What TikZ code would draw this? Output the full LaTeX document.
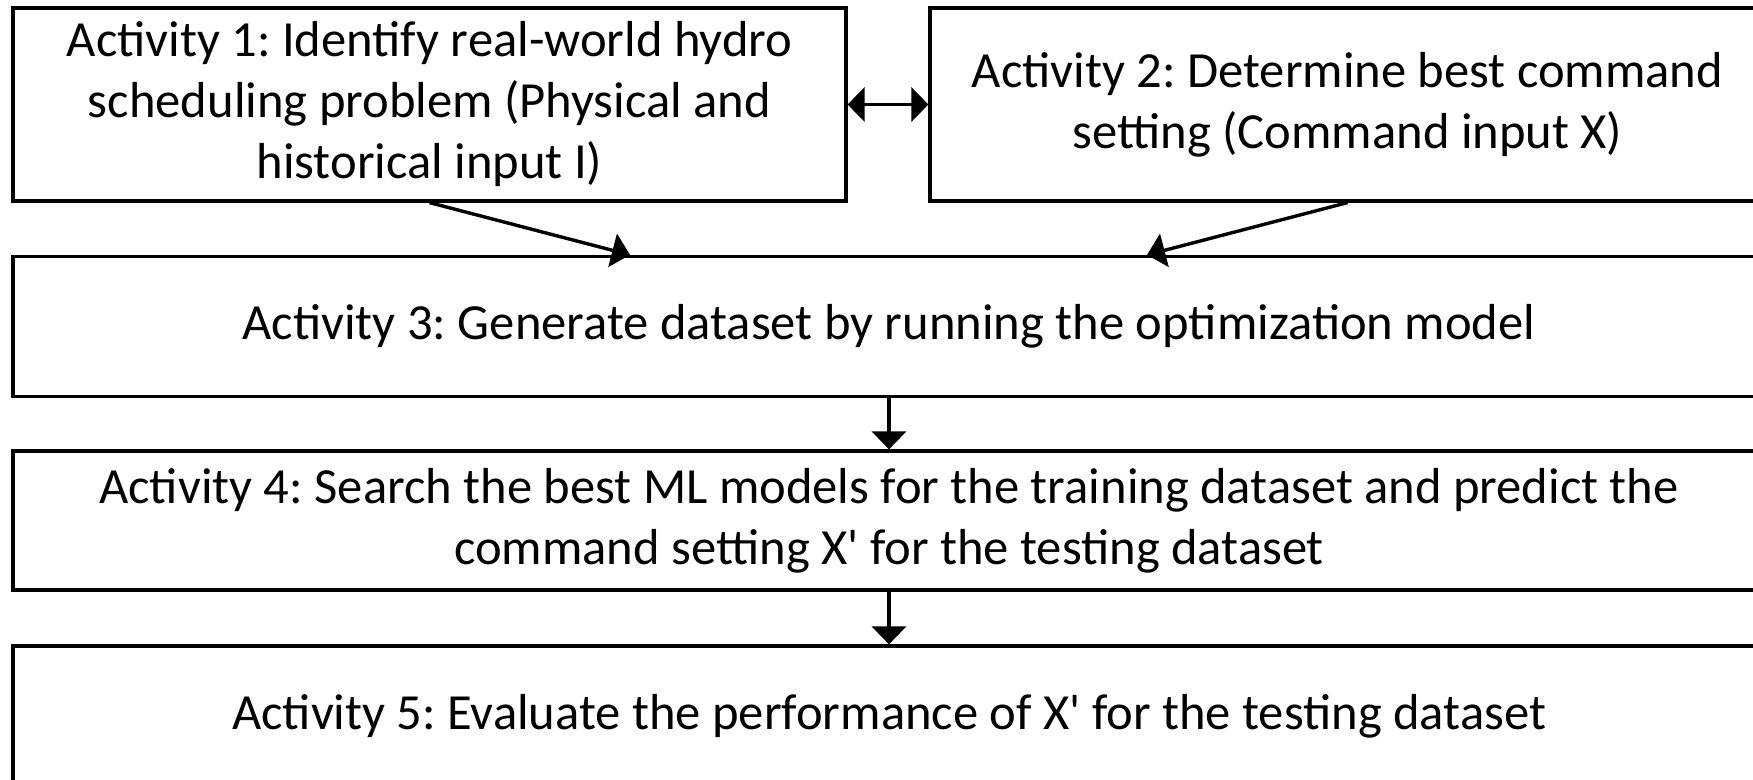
\documentclass[tikz,border=0pt]{standalone}
\usepackage{fontspec}
\setmainfont{Carlito}
\usetikzlibrary{arrows.meta}
\frenchspacing
\begin{document}
\begin{tikzpicture}[x=0.5pt,y=-0.5pt,
  box/.style={draw=black,line width=1.6pt,rectangle,align=center,inner sep=0pt,
    font=\fontsize{25.3}{30.5}\selectfont},
  conn/.style={line width=1.7pt,-{Triangle[length=9pt,width=17pt]}},
  dconn/.style={line width=1.7pt,{Triangle[length=8.5pt,width=17pt]}-{Triangle[length=8.5pt,width=17pt]}}]
\useasboundingbox (0,0) rectangle (1753,780);
\clip (0,0) rectangle (1753,780);
\node[box,minimum width=416.5pt,minimum height=96.5pt] (b1) at (429.5,104.5)
  {Activity 1: Identify real-world hydro\\scheduling problem (Physical and\\historical input I)};
\node[box,minimum width=417.5pt,minimum height=96.5pt] (b2) at (1347.5,104.5)
  {Activity 2: Determine best command\\setting (Command input X)};
\node[box,minimum width=876pt,minimum height=70pt] (b3) at (889,326.5)
  {Activity 3: Generate dataset by running the optimization model};
\node[box,minimum width=876pt,minimum height=69.5pt] (b4) at (889,520.5)
  {Activity 4: Search the best ML models for the training dataset and predict the\\command setting X\textquotesingle{} for the testing dataset};
\node[box,minimum width=876pt,minimum height=70pt] (b5) at (889,716)
  {Activity 5: Evaluate the performance of X\textquotesingle{} for the testing dataset};
\draw[dconn] (b1.east) -- (b2.west);
\draw[conn] (b1.south) -- ([xshift=-129.5pt]b3.north);
\draw[conn] (b2.south) -- ([xshift=129pt]b3.north);
\draw[conn] (b3.south) -- (b4.north);
\draw[conn] (b4.south) -- (b5.north);
\end{tikzpicture}
\end{document}
